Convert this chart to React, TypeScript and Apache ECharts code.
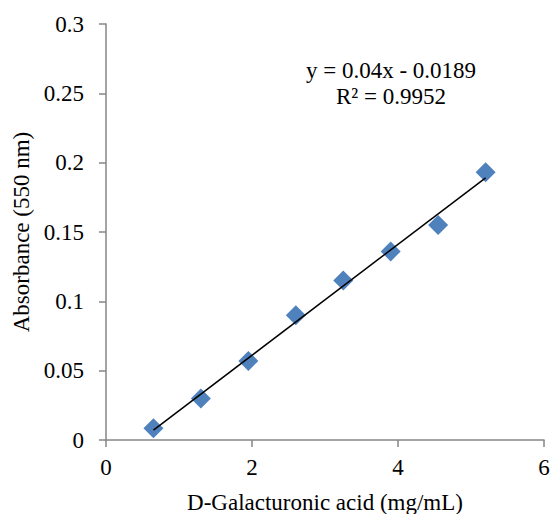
import React, { useEffect, useRef } from "react";
import * as echarts from "echarts";

const concentrations = [0.65, 1.3, 1.95, 2.6, 3.25, 3.9, 4.55, 5.2];
const absorbances = [0.0085, 0.030, 0.057, 0.090, 0.115, 0.136, 0.155, 0.193];
const slope = 0.04;
const intercept = -0.0189;
const equationText = "y = 0.04x - 0.0189";
const r2Text = "R² = 0.9952";
const xTitle = "D-Galacturonic acid (mg/mL)";
const yTitle = "Absorbance (550 nm)";

export default function App() {
  const ref = useRef<HTMLDivElement>(null);
  useEffect(() => {
    if (!ref.current) return;
    const chart = echarts.init(ref.current, null, { renderer: "svg" });
    const xs = [concentrations[0], concentrations[concentrations.length - 1]];
    const trend = xs.map((x) => [x, slope * x + intercept]);
    const font = "'Liberation Serif', 'Times New Roman', serif";
    const axisColor = "#868686";
    chart.setOption({
      animation: false,
      textStyle: { fontFamily: font },
      grid: { left: 106, right: 6, top: 24, bottom: 74, outerBoundsMode: "none", containLabel: false },
      xAxis: {
        type: "value",
        min: 0,
        max: 6,
        interval: 2,
        name: xTitle,
        nameLocation: "middle",
        nameGap: 51,
        nameTextStyle: { fontFamily: font, fontSize: 23, color: "#000" },
        axisLine: { show: true, onZero: false, lineStyle: { color: axisColor, width: 1.5 } },
        axisTick: { show: true, length: 7, lineStyle: { color: axisColor, width: 1.5 } },
        axisLabel: { fontFamily: font, fontSize: 23, color: "#000", margin: 16 },
        splitLine: { show: false },
      },
      yAxis: {
        type: "value",
        min: 0,
        max: 0.3,
        interval: 0.05,
        name: yTitle,
        nameLocation: "middle",
        nameGap: 72,
        nameRotate: 90,
        nameTextStyle: { fontFamily: font, fontSize: 23, color: "#000" },
        axisLine: { show: true, lineStyle: { color: axisColor, width: 1.5 } },
        axisTick: { show: true, length: 7, lineStyle: { color: axisColor, width: 1.5 } },
        axisLabel: { fontFamily: font, fontSize: 23, color: "#000", margin: 22 },
        splitLine: { show: false },
      },
      graphic: [
        {
          type: "text",
          x: 391,
          y: 70,
          style: {
            text: equationText,
            font: `23px ${font}`,
            fill: "#000",
            textAlign: "center",
            textVerticalAlign: "middle",
          },
        },
        {
          type: "text",
          x: 391,
          y: 96,
          style: {
            text: r2Text,
            font: `23px ${font}`,
            fill: "#000",
            textAlign: "center",
            textVerticalAlign: "middle",
          },
        },
      ],
      series: [
        {
          type: "line",
          data: trend,
          showSymbol: false,
          symbol: "none",
          lineStyle: { color: "#000", width: 1.5 },
          z: 3,
        },
        {
          type: "scatter",
          data: concentrations.map((x, i) => [x, absorbances[i]]),
          symbol: "diamond",
          symbolSize: [20, 20],
          itemStyle: { color: "#4F81BD", opacity: 1 },
          z: 2,
        },
      ],
    });
    return () => chart.dispose();
  }, []);
  return (
    <div
      ref={ref}
      style={{ position: "absolute", left: 0, top: 0, width: 550, height: 514 }}
    />
  );
}
